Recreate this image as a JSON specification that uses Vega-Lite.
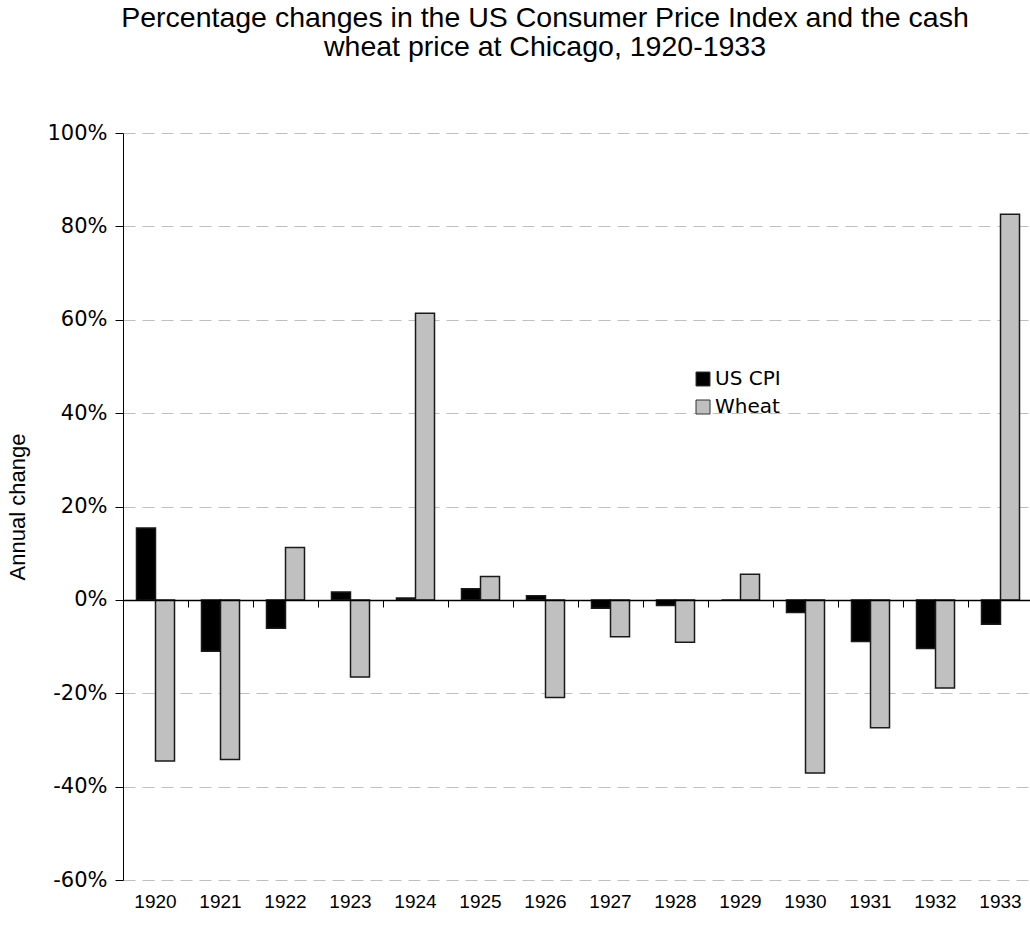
{
  "$schema": "https://vega.github.io/schema/vega-lite/v6.json",
  "autosize": {"type": "none"},
  "padding": {"left": 123, "top": 133, "right": 0, "bottom": 48},
  "width": 910,
  "height": 747,
  "background": "white",
  "title": {
    "text": ["Percentage changes in the US Consumer Price Index and the cash", "wheat price at Chicago, 1920-1933"],
    "font": "Liberation Sans",
    "fontSize": 28.5,
    "fontWeight": "normal",
    "color": "#000000",
    "anchor": "middle",
    "dx": -33,
    "offset": 61,
    "lineHeight": 29
  },
  "config": {
    "view": {"stroke": null},
    "font": "Liberation Sans"
  },
  "data": {
    "values": [
      {"year": "1920", "series": "US CPI", "change": 0.154},
      {"year": "1920", "series": "Wheat", "change": -0.345},
      {"year": "1921", "series": "US CPI", "change": -0.110},
      {"year": "1921", "series": "Wheat", "change": -0.342},
      {"year": "1922", "series": "US CPI", "change": -0.061},
      {"year": "1922", "series": "Wheat", "change": 0.112},
      {"year": "1923", "series": "US CPI", "change": 0.017},
      {"year": "1923", "series": "Wheat", "change": -0.165},
      {"year": "1924", "series": "US CPI", "change": 0.004},
      {"year": "1924", "series": "Wheat", "change": 0.614},
      {"year": "1925", "series": "US CPI", "change": 0.024},
      {"year": "1925", "series": "Wheat", "change": 0.050},
      {"year": "1926", "series": "US CPI", "change": 0.009},
      {"year": "1926", "series": "Wheat", "change": -0.209},
      {"year": "1927", "series": "US CPI", "change": -0.018},
      {"year": "1927", "series": "Wheat", "change": -0.079},
      {"year": "1928", "series": "US CPI", "change": -0.012},
      {"year": "1928", "series": "Wheat", "change": -0.091},
      {"year": "1929", "series": "US CPI", "change": 0.0},
      {"year": "1929", "series": "Wheat", "change": 0.055},
      {"year": "1930", "series": "US CPI", "change": -0.027},
      {"year": "1930", "series": "Wheat", "change": -0.371},
      {"year": "1931", "series": "US CPI", "change": -0.089},
      {"year": "1931", "series": "Wheat", "change": -0.274},
      {"year": "1932", "series": "US CPI", "change": -0.104},
      {"year": "1932", "series": "Wheat", "change": -0.189},
      {"year": "1933", "series": "US CPI", "change": -0.052},
      {"year": "1933", "series": "Wheat", "change": 0.826}
    ]
  },
  "layer": [
    {
      "mark": {"type": "bar", "stroke": "#1a1a1a", "strokeWidth": 1.5},
      "encoding": {
        "x": {
          "field": "year",
          "type": "ordinal",
          "scale": {"paddingInner": 0, "paddingOuter": 0},
          "axis": {
            "title": null,
            "domain": false,
            "ticks": false,
            "tickSize": 0,
            "labelPadding": 12,
            "labelAngle": 0,
            "labelFont": "Liberation Sans",
            "labelFontSize": 19,
            "labelColor": "#000000",
            "grid": false
          }
        },
        "xOffset": {
          "field": "series",
          "type": "nominal",
          "scale": {"paddingInner": 0, "paddingOuter": 0.71}
        },
        "y": {
          "field": "change",
          "type": "quantitative",
          "scale": {"domain": [-0.6, 1.0], "nice": false, "zero": false},
          "axis": {
            "title": "Annual change",
            "titleFont": "Liberation Sans",
            "titleFontSize": 22,
            "titleFontWeight": "normal",
            "titleColor": "#000000",
            "titlePadding": 17,
            "values": [-0.6, -0.4, -0.2, 0, 0.2, 0.4, 0.6, 0.8, 1.0],
            "labelExpr": "(datum.value < -0.0001 ? '-' : '') + format(abs(datum.value), '.0%')",
            "labelFont": "DejaVu Sans",
            "labelFontSize": 21,
            "labelColor": "#000000",
            "labelPadding": 8,
            "tickSize": 8,
            "tickColor": "#000000",
            "domainColor": "#000000",
            "grid": true,
            "gridColor": "#bfbfbf",
            "gridDash": [12, 7],
            "gridWidth": 1
          }
        },
        "color": {
          "field": "series",
          "type": "nominal",
          "scale": {"domain": ["US CPI", "Wheat"], "range": ["#000000", "#c0c0c0"]},
          "legend": {
            "title": null,
            "orient": "none",
            "legendX": 570,
            "legendY": 236,
            "symbolType": "square",
            "symbolSize": 196,
            "symbolStrokeColor": "#333333",
            "symbolStrokeWidth": 1,
            "labelFont": "DejaVu Sans",
            "labelFontSize": 20,
            "labelColor": "#000000",
            "labelOffset": 2,
            "rowPadding": 8
          }
        }
      }
    },
    {
      "mark": {"type": "tick", "opacity": 0},
      "encoding": {
        "x": {
          "field": "year",
          "type": "ordinal",
          "axis": {
            "orient": "bottom",
            "offset": -280,
            "title": null,
            "labels": false,
            "domain": true,
            "domainColor": "#000000",
            "domainWidth": 1.5,
            "ticks": true,
            "tickBand": "extent",
            "tickSize": 7,
            "tickColor": "#000000",
            "tickWidth": 1,
            "grid": false,
            "zindex": 1
          }
        },
        "y": {"datum": 0}
      }
    }
  ],
  "resolve": {"axis": {"x": "independent"}}
}
